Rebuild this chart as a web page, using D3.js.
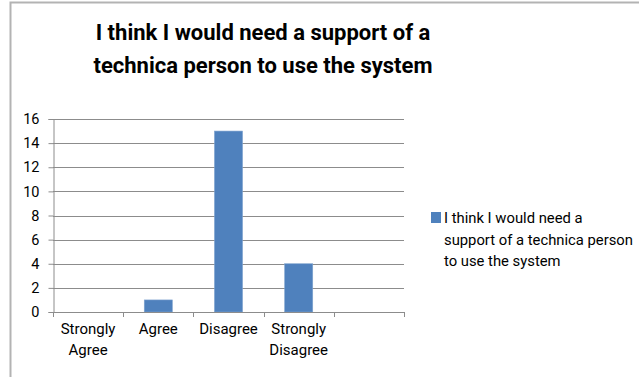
<!DOCTYPE html>
<html>
<head>
<meta charset="utf-8">
<script src="https://cdn.jsdelivr.net/npm/d3@7"></script>
<style>
  html, body { margin: 0; padding: 0; background: #fff; }
  svg { display: block; }
  text { font-family: Roboto, "Liberation Sans", sans-serif; fill: #000; }
</style>
</head>
<body>
<svg id="chart" width="639" height="377"></svg>
<script>
// Survey responses
const categories = ["Strongly Agree", "Agree", "Disagree", "Strongly Disagree", ""];
const values = [0, 1, 15, 4, null];
const yTicks = [0, 2, 4, 6, 8, 10, 12, 14, 16];
const titleLines = ["I think I would need a support of a", "technica person to use the system"];
const legendLines = ["I think I would need a", "support of a technica person", "to use the system"];
const catLines = [["Strongly", "Agree"], ["Agree"], ["Disagree"], ["Strongly", "Disagree"], [""]];

const W = 639, H = 377;
const plot = { left: 53, right: 404, top: 119, bottom: 312 };
const barColor = "#4F81BD";
const gridColor = "#8c8c8c";

const svg = d3.select("#chart");

// outer chart frame
svg.append("path")
  .attr("d", `M10.5,${H} L10.5,2.5 L${W},2.5`)
  .attr("fill", "none")
  .attr("stroke", "#b3b3b3")
  .attr("stroke-width", 2);

// title
svg.append("g").selectAll("text")
  .data(titleLines)
  .join("text")
  .attr("x", 263)
  .attr("y", (d, i) => 40 + i * 33)
  .attr("text-anchor", "middle")
  .attr("font-size", 22)
  .attr("font-weight", "bold")
  .text(d => d);

const x = d3.scaleBand()
  .domain(categories.map((c, i) => i))
  .range([plot.left, plot.right])
  .paddingInner(0.6)
  .paddingOuter(0.3);

const step = (plot.right - plot.left) / categories.length;

const y = d3.scaleLinear()
  .domain([0, 16])
  .range([plot.bottom, plot.top]);

// horizontal gridlines
svg.append("g").selectAll("line")
  .data(yTicks)
  .join("line")
  .attr("x1", plot.left)
  .attr("x2", plot.right)
  .attr("y1", d => Math.round(y(d)) + 0.5)
  .attr("y2", d => Math.round(y(d)) + 0.5)
  .attr("stroke", gridColor)
  .attr("stroke-width", 1);

// y axis
const yAxis = svg.append("g")
  .attr("transform", `translate(${plot.left + 0.5},0)`)
  .call(d3.axisLeft(y).tickValues(yTicks).tickSize(5).tickPadding(9));
yAxis.select(".domain").attr("stroke", gridColor);
yAxis.selectAll(".tick line").attr("stroke", gridColor);
yAxis.selectAll(".tick text")
  .attr("font-family", "Roboto, sans-serif")
  .attr("font-size", 14.5)
  .attr("fill", "#000");

// bars
svg.append("g").selectAll("rect")
  .data(values.map((v, i) => ({ v, i })).filter(d => d.v != null && d.v > 0))
  .join("rect")
  .attr("x", d => x(d.i))
  .attr("width", x.bandwidth())
  .attr("y", d => y(d.v))
  .attr("height", d => y(0) - y(d.v))
  .attr("fill", barColor)
  .attr("stroke", "#7fa3cf")
  .attr("stroke-width", 0.6);

// x axis baseline and category separators
const xg = svg.append("g");
xg.append("line")
  .attr("x1", plot.left).attr("x2", plot.right)
  .attr("y1", plot.bottom + 0.5).attr("y2", plot.bottom + 0.5)
  .attr("stroke", gridColor);
xg.selectAll("line.sep")
  .data(d3.range(categories.length + 1))
  .join("line")
  .attr("class", "sep")
  .attr("x1", i => Math.round(plot.left + i * step) + 0.5)
  .attr("x2", i => Math.round(plot.left + i * step) + 0.5)
  .attr("y1", plot.bottom)
  .attr("y2", plot.bottom + 5)
  .attr("stroke", gridColor);

// category labels
const lab = svg.append("g").selectAll("text")
  .data(catLines.map((lines, i) => ({ lines, i })))
  .join("text")
  .attr("text-anchor", "middle")
  .attr("font-size", 15);
lab.selectAll("tspan")
  .data(d => d.lines.map(l => ({ l, i: d.i })))
  .join("tspan")
  .attr("x", d => x(d.i) + x.bandwidth() / 2)
  .attr("y", (d, j) => 334 + j * 21)
  .text(d => d.l);

// legend
const lg = svg.append("g");
lg.append("rect")
  .attr("x", 431).attr("y", 212)
  .attr("width", 10).attr("height", 11)
  .attr("fill", barColor);
lg.selectAll("text")
  .data(legendLines)
  .join("text")
  .attr("x", 444)
  .attr("y", (d, i) => 223 + i * 21.5)
  .attr("font-size", 14.8)
  .text(d => d);
</script>
</body>
</html>
